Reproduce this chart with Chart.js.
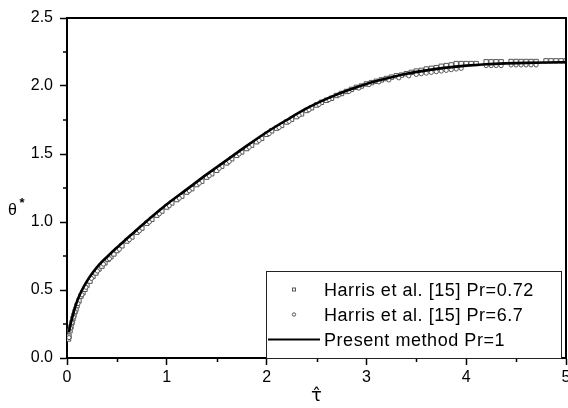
<!DOCTYPE html>
<html><head><meta charset="utf-8">
<script src="https://cdn.jsdelivr.net/npm/chart.js@4.4.1/dist/chart.umd.min.js"></script>
<style>html,body{margin:0;padding:0;background:#fff}</style>
</head><body>
<canvas id="c" width="568" height="408"></canvas>
<script>
// ---- data ----
const seriesLabels = ['Harris et al. [15] Pr=0.72', 'Harris et al. [15] Pr=6.7', 'Present method Pr=1'];

const tauLine   = [0.02,0.03,0.05,0.07,0.10,0.14,0.20,0.26,0.32,0.41,0.50,0.60,0.70,0.80,0.90,1.00,1.20,1.40,1.60,1.80,2.00,2.20,2.40,2.60,2.80,3.00,3.20,3.40,3.60,3.80,4.00,4.20,4.40,4.60,4.80,5.00];
const thetaLine = [0.19,0.23,0.29,0.345,0.415,0.485,0.565,0.63,0.685,0.75,0.812,0.878,0.943,1.008,1.07,1.13,1.24,1.35,1.455,1.56,1.66,1.75,1.835,1.905,1.965,2.015,2.055,2.09,2.115,2.135,2.15,2.16,2.166,2.17,2.173,2.175];

const tauSq   = [0.015,0.02,0.03,0.04,0.05,0.06,0.07,0.08,0.09,0.10,0.12,0.14,0.16,0.18,0.20,0.23,0.26,0.29,0.32,0.35,0.38,0.41,0.44,0.47,0.50,0.55,0.60,0.65,0.70,0.75,0.80,0.85,0.90,0.95,1.00,1.05,1.10,1.15,1.20,1.25,1.30,1.35,1.40,1.45,1.50,1.55,1.60,1.65,1.70,1.75,1.80,1.85,1.90,1.95,2.00,2.05,2.10,2.15,2.20,2.25,2.30,2.35,2.40,2.45,2.50,2.55,2.60,2.65,2.70,2.75,2.80,2.85,2.90,2.95,3.00,3.05,3.10,3.15,3.20,3.25,3.30,3.35,3.40,3.45,3.50,3.55,3.60,3.65,3.70,3.75,3.80,3.85,3.90,3.95,4.00,4.05,4.10,4.20,4.25,4.30,4.35,4.45,4.50,4.55,4.60,4.65,4.70,4.80,4.85,4.90,4.95,5.00];
const thetaSq = [0.14,0.16,0.20,0.23,0.26,0.29,0.315,0.34,0.36,0.385,0.42,0.455,0.48,0.505,0.535,0.565,0.60,0.625,0.655,0.675,0.70,0.725,0.745,0.765,0.79,0.825,0.86,0.89,0.925,0.955,0.99,1.02,1.05,1.08,1.11,1.14,1.165,1.19,1.22,1.245,1.275,1.30,1.33,1.355,1.38,1.41,1.435,1.465,1.49,1.515,1.54,1.565,1.59,1.615,1.645,1.67,1.69,1.71,1.735,1.755,1.775,1.795,1.82,1.84,1.86,1.88,1.895,1.91,1.93,1.945,1.96,1.975,1.99,2.00,2.015,2.025,2.035,2.045,2.055,2.065,2.075,2.08,2.09,2.10,2.11,2.115,2.125,2.13,2.135,2.145,2.15,2.155,2.165,2.165,2.165,2.165,2.165,2.178,2.178,2.178,2.178,2.18,2.18,2.18,2.18,2.18,2.18,2.185,2.185,2.185,2.185,2.185];

const tauCirc   = [0.02,0.035,0.05,0.065,0.08,0.11,0.15,0.19,0.245,0.305,0.365,0.425,0.525,0.625,0.725,0.825,0.925,1.025,1.125,1.225,1.325,1.425,1.525,1.625,1.725,1.825,1.925,2.025,2.125,2.225,2.325,2.425,2.525,2.625,2.725,2.825,2.925,3.025,3.125,3.225,3.325,3.425,3.50,3.55,3.60,3.65,3.70,3.75,3.80,3.85,3.90,3.95,4.20,4.25,4.30,4.35,4.45,4.50,4.55,4.60,4.65,4.70];
const thetaCirc = [0.15,0.22,0.26,0.30,0.34,0.40,0.465,0.52,0.585,0.64,0.69,0.73,0.80,0.87,0.935,1.00,1.06,1.12,1.175,1.23,1.285,1.34,1.395,1.445,1.50,1.55,1.60,1.65,1.695,1.74,1.785,1.825,1.865,1.90,1.935,1.96,1.985,2.01,2.03,2.045,2.06,2.075,2.085,2.09,2.095,2.10,2.105,2.11,2.115,2.12,2.125,2.13,2.15,2.15,2.15,2.15,2.155,2.155,2.155,2.155,2.155,2.155];

const xTickLabels = ['0','1','2','3','4','5'];
const yTickLabels = ['0.0','0.5','1.0','1.5','2.0','2.5'];
const xMinorTicks = [0.5,1.5,2.5,3.5,4.5];
const yMinorTicks = [0.25,0.75,1.25,1.75,2.25];
const xTitle = 'τ\u0302';
const yTitle = 'θ';
const yTitleSup = '*';

// ---- chart ----
const FONT = "'Liberation Sans', Arial, sans-serif";
const pts = (xs, ys) => xs.map((x, i) => ({x: x, y: ys[i]}));

const decor = {
  id: 'decor',
  afterDraw(chart) {
    const ctx = chart.ctx, a = chart.chartArea;
    const xs = chart.scales.x, ys = chart.scales.y;
    ctx.save();
    ctx.strokeStyle = '#000';
    ctx.lineWidth = 2;
    ctx.beginPath();
    ctx.moveTo(a.left, a.top); ctx.lineTo(a.right, a.top); ctx.lineTo(a.right, a.bottom);
    ctx.stroke();
    // minor ticks (outside)
    ctx.lineWidth = 1.5;
    ctx.beginPath();
    xMinorTicks.forEach(v => { const p = Math.round(xs.getPixelForValue(v)) + 0.5; ctx.moveTo(p, a.bottom); ctx.lineTo(p, a.bottom + 4); });
    yMinorTicks.forEach(v => { const p = Math.round(ys.getPixelForValue(v)); ctx.moveTo(a.left, p); ctx.lineTo(a.left - 4, p); });
    ctx.stroke();
    // y title
    ctx.fillStyle = '#000';
    ctx.textBaseline = 'alphabetic';
    ctx.font = '16px ' + FONT;
    ctx.textAlign = 'left';
    ctx.fillText(yTitle, 8, 215);
    ctx.font = 'bold 13px ' + FONT;
    ctx.fillText(yTitleSup, 19.5, 207);
    // legend
    const L = 266, T = 271, R = 561, B = 358;
    ctx.fillStyle = '#fff';
    ctx.fillRect(L, T, R - L, B - T);
    ctx.strokeStyle = '#222';
    ctx.lineWidth = 1;
    ctx.strokeRect(L + 0.5, T + 0.5, R - L, B - T);
    ctx.fillStyle = '#000';
    ctx.font = '18px ' + FONT;
    ctx.letterSpacing = '0.55px';
    const baselines = [296, 321, 345.5];
    seriesLabels.forEach((s, i) => ctx.fillText(s, 324, baselines[i]));
    ctx.letterSpacing = '0px';
    ctx.strokeStyle = '#555';
    ctx.lineWidth = 1;
    ctx.strokeRect(292.5, 288, 3, 3);
    ctx.beginPath(); ctx.arc(294, 314.5, 1.7, 0, Math.PI * 2); ctx.stroke();
    ctx.strokeStyle = '#000';
    ctx.lineWidth = 2;
    ctx.beginPath(); ctx.moveTo(268, 339.5); ctx.lineTo(320, 339.5); ctx.stroke();
    ctx.restore();
  }
};

new Chart(document.getElementById('c'), {
  type: 'scatter',
  data: {
    datasets: [
      {label: seriesLabels[0], data: pts(tauSq, thetaSq), showLine: false, pointStyle: 'rect', pointRadius: 3.1, borderWidth: 1, borderColor: '#555', backgroundColor: '#fff', order: 3},
      {label: seriesLabels[1], data: pts(tauCirc, thetaCirc), showLine: false, pointStyle: 'circle', pointRadius: 2.1, borderWidth: 1, borderColor: '#555', backgroundColor: '#fff', order: 2},
      {label: seriesLabels[2], data: pts(tauLine, thetaLine), showLine: true, pointRadius: 0, borderWidth: 2.6, borderColor: '#000', backgroundColor: '#000', cubicInterpolationMode: 'monotone', order: 1}
    ]
  },
  options: {
    responsive: false, animation: false, devicePixelRatio: 1,
    layout: {autoPadding: false, padding: {left: 0, right: 2, top: 18, bottom: 0}},
    plugins: {legend: {display: false}, tooltip: {enabled: false}},
    scales: {
      x: {
        type: 'linear', min: 0, max: 5,
        afterFit(s) { s.height = 50; s.paddingLeft = 0; s.paddingRight = 0; },
        ticks: {stepSize: 1, padding: 3, color: '#000', maxRotation: 0, autoSkip: false,
                font: {family: FONT, size: 16},
                callback: v => xTickLabels[Math.round(v)]},
        grid: {drawOnChartArea: false, drawTicks: true, tickLength: 7, tickWidth: 1.5, tickColor: '#000'},
        border: {display: true, color: '#000', width: 2},
        title: {display: true, text: xTitle, color: '#000', font: {family: "'DejaVu Sans', sans-serif", size: 18, lineHeight: 1.2}, padding: {top: 0, bottom: 1}}
      },
      y: {
        type: 'linear', min: 0, max: 2.5,
        afterFit(s) { s.width = 67; },
        ticks: {stepSize: 0.5, padding: 7, color: '#000', font: {family: FONT, size: 16},
                callback: v => yTickLabels[Math.round(v * 2)]},
        grid: {drawOnChartArea: false, drawTicks: true, tickLength: 7, tickWidth: 1.5, tickColor: '#000'},
        border: {display: true, color: '#000', width: 2},
        title: {display: false}
      }
    }
  },
  plugins: [decor]
});
</script>
</body></html>
